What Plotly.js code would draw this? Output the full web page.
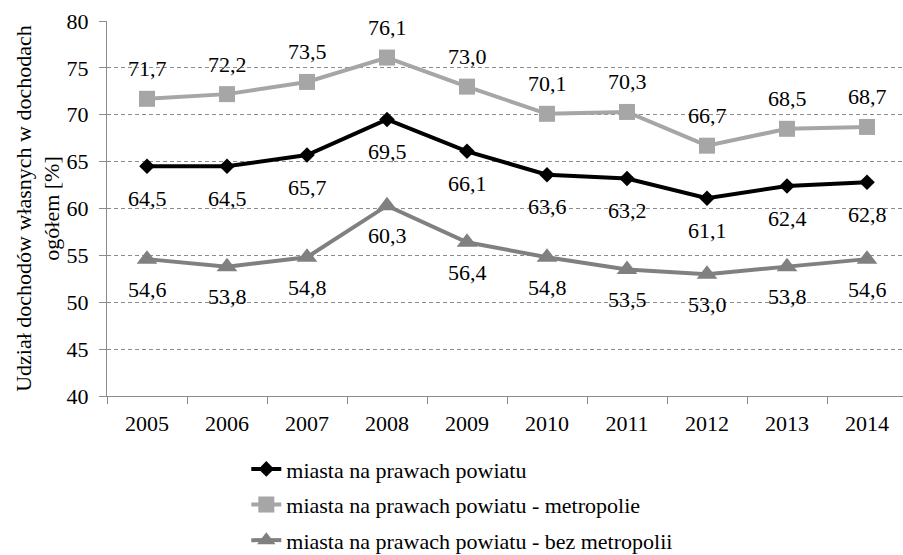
<!DOCTYPE html>
<html><head><meta charset="utf-8">
<script src="https://cdn.plot.ly/plotly-3.0.1.min.js"></script>
<style>html,body{margin:0;padding:0;background:#fff}#chart{width:903px;height:555px}</style>
</head><body><div id="chart"></div>
<script>
const years = ['2005','2006','2007','2008','2009','2010','2011','2012','2013','2014'];
const seriesNames = ['miasta na prawach powiatu','miasta na prawach powiatu - metropolie','miasta na prawach powiatu - bez metropolii'];
const miasta = [64.5,64.5,65.7,69.5,66.1,63.6,63.2,61.1,62.4,62.8];
const metropolie = [71.7,72.2,73.5,76.1,73.0,70.1,70.3,66.7,68.5,68.7];
const bezMetropolii = [54.6,53.8,54.8,60.3,56.4,54.8,53.5,53.0,53.8,54.6];
const yTitle = 'Udział dochodów własnych w dochodach<br>ogółem [%]';

const FF = '"Liberation Serif", "Times New Roman", serif';
const FS = 22;
const styles = [
  {color:'#000000', symbol:'diamond', size:12, shift:-32},
  {color:'#a6a6a6', symbol:'square', size:16, shift:30},
  {color:'#808080', symbol:'triangle-up', size:18, shift:-30}
];
const data = [miasta, metropolie, bezMetropolii];
const traces = data.map((vals,i)=>({
  x: years, y: vals, name: seriesNames[i], type:'scatter', mode:'lines+markers',
  legendgroup: 'g'+i,
  line:{color:styles[i].color, width:4},
  marker:{color:styles[i].color, symbol:styles[i].symbol, size:styles[i].size},
  cliponaxis:false
}));
const annotations = [];
data.forEach((vals,i)=>{
  vals.forEach((v,j)=>{
    annotations.push({x:j, y:v, xref:'x', yref:'y', text:v.toFixed(1).replace('.',','),
      showarrow:false, yshift:styles[i].shift, font:{family:FF, size:FS, color:'#000'}});
  });
});
const layout = {
  width:903, height:555,
  margin:{l:107, r:0, t:21, b:159, autoexpand:false},
  paper_bgcolor:'#fff', plot_bgcolor:'#fff',
  font:{family:FF, size:FS, color:'#000'},
  showlegend:true,
  legend:{x:0.175, y:-0.139, xanchor:'left', yanchor:'top', orientation:'v',
    tracegroupgap:4, font:{family:FF, size:22, color:'#000'}, bgcolor:'rgba(0,0,0,0)'},
  xaxis:{type:'category', range:[-0.5, 9.45], tickson:'boundaries', ticks:'outside', ticklen:7,
    tickcolor:'#8a8a8a', showline:true, linecolor:'#8a8a8a', linewidth:1, showgrid:false,
    ticklabelstandoff:8, tickfont:{family:FF, size:FS, color:'#000'}},
  yaxis:{range:[40,80], dtick:5, tick0:40, ticks:'outside', ticklen:7, tickcolor:'#8a8a8a',
    showline:true, linecolor:'#8a8a8a', linewidth:1, showgrid:true, gridcolor:'#8c8c8c', griddash:'4px,3px',
    gridwidth:1, zeroline:false, ticklabelstandoff:6, tickfont:{family:FF, size:FS, color:'#000'},
    title:{text:yTitle, font:{family:FF, size:FS, color:'#000'}, standoff:0}},
  annotations: annotations
};
Plotly.newPlot('chart', traces, layout, {displayModeBar:false});
</script></body></html>
